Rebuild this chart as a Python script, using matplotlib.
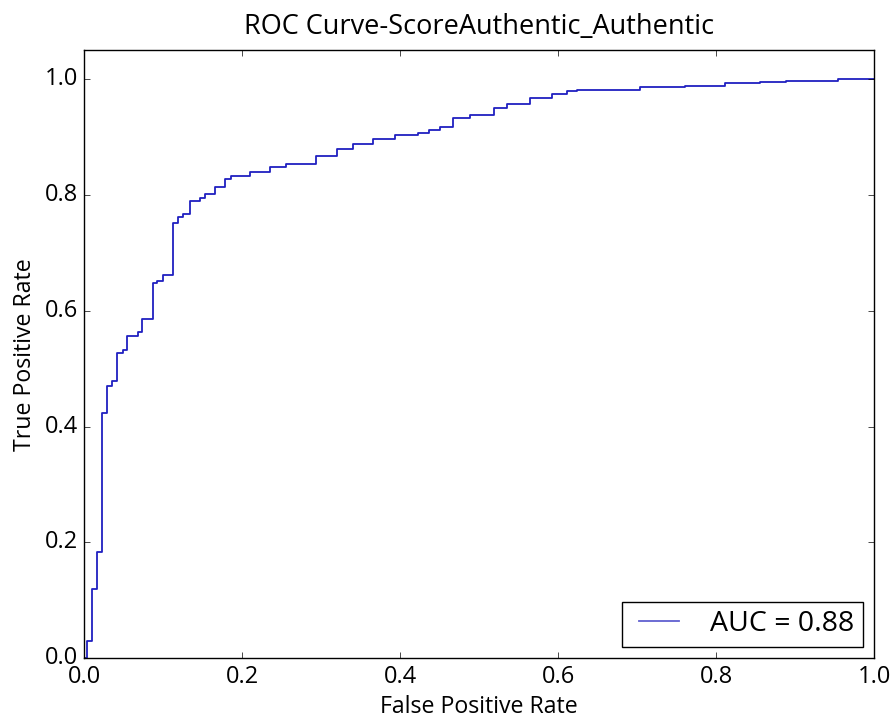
import matplotlib
matplotlib.use("Agg")
import matplotlib.pyplot as plt

plt.style.use("classic")
plt.rcParams["font.family"] = ["Open Sans", "DejaVu Sans"]

fpr = [0.0, 0.0042, 0.0097, 0.0161, 0.0232, 0.0287, 0.0351, 0.0422, 0.049, 0.0548,
       0.0687, 0.0738, 0.087, 0.0928, 0.0996, 0.113, 0.1186, 0.1257, 0.134, 0.147,
       0.153, 0.166, 0.179, 0.186, 0.210, 0.235, 0.256, 0.294, 0.320, 0.340,
       0.366, 0.394, 0.423, 0.437, 0.451, 0.467, 0.489, 0.519, 0.535, 0.565,
       0.592, 0.611, 0.624, 0.704, 0.761, 0.811, 0.856, 0.889, 0.954, 1.0]
tpr = [0.0, 0.029, 0.12, 0.183, 0.423, 0.47, 0.479, 0.527, 0.532, 0.556,
       0.563, 0.585, 0.648, 0.652, 0.661, 0.752, 0.762, 0.767, 0.79, 0.794,
       0.801, 0.814, 0.828, 0.832, 0.839, 0.849, 0.854, 0.868, 0.879, 0.889,
       0.896, 0.903, 0.908, 0.912, 0.917, 0.933, 0.938, 0.951, 0.957, 0.968,
       0.975, 0.980, 0.982, 0.987, 0.989, 0.993, 0.995, 0.997, 1.0, 1.0]
auc_value = 0.88
title = "ROC Curve-ScoreAuthentic_Authentic"

fig = plt.figure(figsize=(8.91, 7.19), dpi=100, facecolor="white")
ax = fig.add_axes([0.0943, 0.0848, 0.8867, 0.8452])
ax.plot(fpr, tpr, color="#2020c0", lw=1.3, drawstyle="steps-post",
        label="AUC = %0.2f" % auc_value)
ax.set_xlim(0, 1)
ax.set_ylim(0, 1.05)
ax.set_xticks([0.0, 0.2, 0.4, 0.6, 0.8, 1.0])
ax.set_yticks([0.0, 0.2, 0.4, 0.6, 0.8, 1.0])
ax.tick_params(labelsize=17)
ax.tick_params(axis="x", pad=5)
ax.set_xlabel("False Positive Rate", fontsize=16.7, labelpad=4)
ax.set_ylabel("True Positive Rate", fontsize=16.7, labelpad=6)
ax.set_title(title, fontsize=19.5, y=1.015)
leg = ax.legend(loc="lower right", fontsize=20.5, handlelength=2.0,
                handletextpad=0.8, borderpad=0.3, borderaxespad=0.4)
leg.get_lines()[0].set_color("#6060d0")
fig.savefig("out.png", dpi=100, facecolor="white")
